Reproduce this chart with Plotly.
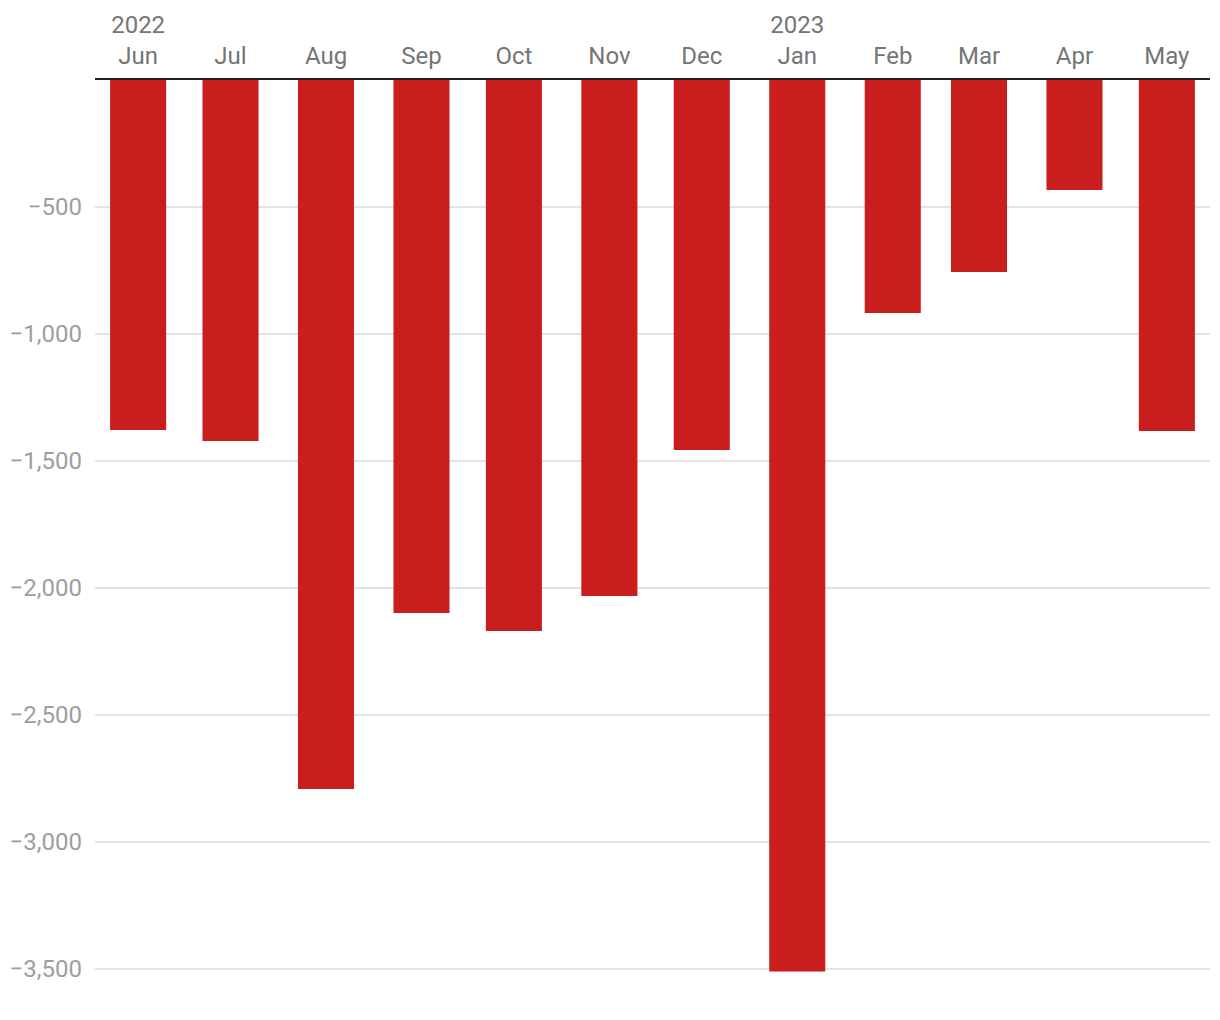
import plotly.graph_objects as go

months = ["2022-06-01", "2022-07-01", "2022-08-01", "2022-09-01", "2022-10-01", "2022-11-01",
          "2022-12-01", "2023-01-01", "2023-02-01", "2023-03-01", "2023-04-01", "2023-05-01"]
values = [-1378, -1421, -2791, -2098, -2169, -2031, -1457, -3510, -917, -756, -433, -1382]
tick_labels = ["2022<br>Jun", "Jul", "Aug", "Sep", "Oct", "Nov", "Dec",
               "2023<br>Jan", "Feb", "Mar", "Apr", "May"]
y_ticks = [-500, -1000, -1500, -2000, -2500, -3000, -3500]

bar_width_ms = 18.2 * 86400000

fig = go.Figure(go.Bar(
    x=months, y=values, width=[bar_width_ms] * len(months),
    marker=dict(color="#c91d1e", line=dict(width=0)),
))

fig.update_layout(
    width=1220, height=1020,
    margin=dict(l=87, r=18, t=72, b=28),
    plot_bgcolor="white", paper_bgcolor="white",
    font=dict(family="Roboto", size=24),
    showlegend=False,
    xaxis=dict(
        type="date", side="top", range=["2022-05-18", "2023-05-15"],
        tickvals=months, ticktext=tick_labels, automargin=False,
        showgrid=False, zeroline=False, ticks="",
        showline=True, linecolor="#222222", linewidth=2,
        ticklabelstandoff=4,
        tickfont=dict(color="#757575", size=24),
    ),
    yaxis=dict(
        range=[-3622, 0], tickvals=y_ticks, tickformat=",d", automargin=False,
        showgrid=True, gridcolor="#e3e3e3", gridwidth=1.5,
        zeroline=False, showline=False, ticks="",
        ticklabelstandoff=12,
        tickfont=dict(color="#9e9e9e", size=24),
    ),
)

fig.write_html("out.html")
